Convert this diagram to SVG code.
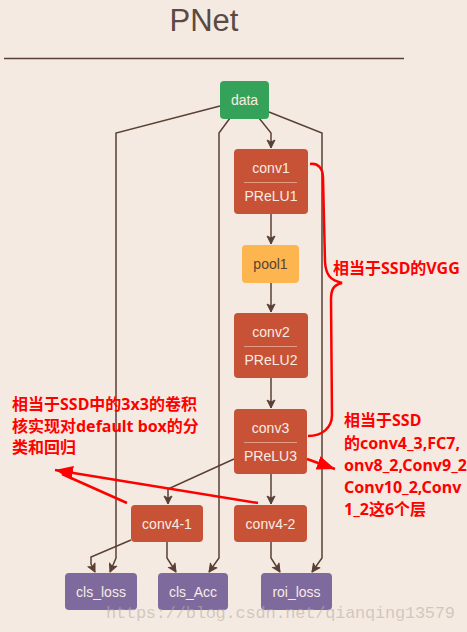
<svg xmlns="http://www.w3.org/2000/svg" width="467" height="632" viewBox="0 0 467 632">
<defs>
<marker id="arr" markerWidth="10" markerHeight="10" refX="9" refY="5" orient="auto" markerUnits="userSpaceOnUse">
<path d="M1,1 L9,5 L1,9 L3,5 Z" fill="#5a4034" stroke="#5a4034" stroke-width="1" stroke-linejoin="round"/>
</marker>
<marker id="rarr" markerWidth="20" markerHeight="16" refX="18" refY="8" orient="auto" markerUnits="userSpaceOnUse">
<path d="M0,1 L18,8 L0,15 Z" fill="#ff0000"/>
</marker>
<style>
.bg{fill:#f5eae1}
.edge{fill:none;stroke:#5a4034;stroke-width:1.5;marker-end:url(#arr)}
.conv{fill:#c85236}
.data{fill:#35a25a}
.pool{fill:#fdb54f}
.loss{fill:#7f6a9d}
.lbl{font-family:"Liberation Sans",Arial,sans-serif;font-size:14px;fill:#f7ece4;text-anchor:middle}
.dark{fill:#5a4034}
.sep{stroke:#e59a84;stroke-width:1}
.red{fill:#ff0000;font-family:"Noto Sans","Noto Sans CJK SC",sans-serif;font-weight:bold;font-size:16px}
.rline{fill:none;stroke:#ff0000;stroke-width:2.5}
</style>
</defs>
<rect class="bg" x="0" y="0" width="467" height="632"/>
<text x="204" y="31" font-family="Liberation Sans,Arial,sans-serif" font-size="31" fill="#5b4a42" text-anchor="middle">PNet</text>
<line x1="4" y1="58.5" x2="404" y2="58.5" stroke="#5a4034" stroke-width="1.3"/>

<g id="connectors">
<polyline class="edge" points="259,118 271,133 271,148"/>
<polyline class="edge" points="220,106 116,133 116,558 110,572"/>
<polyline class="edge" points="230,118 219,133 219,558 209,572"/>
<polyline class="edge" points="269,112 322,133 322,558 312,572"/>
<line class="edge" x1="271" y1="214" x2="271" y2="244"/>
<line class="edge" x1="271" y1="283" x2="271" y2="312"/>
<line class="edge" x1="271" y1="378" x2="271" y2="408"/>
<polyline class="edge" points="234,459 168,489 168,504"/>
<line class="edge" x1="271" y1="474" x2="271" y2="504"/>
<polyline class="edge" points="131,540 91,557 91,564 95,572"/>
<polyline class="edge" points="167,542 167,558 176,572"/>
<polyline class="edge" points="271,542 271,558 280,572"/>
</g>

<g id="data"><rect class="data" x="220" y="81" width="49" height="38" rx="4"/><text class="lbl" x="244.5" y="105">data</text></g>
<g id="conv1"><rect class="conv" x="234" y="149" width="74" height="65" rx="4"/><text class="lbl" x="271" y="173">conv1</text><line class="sep" x1="244" y1="182.5" x2="297" y2="182.5"/><text class="lbl" x="271" y="201">PReLU1</text></g>
<g id="pool1"><rect class="pool" x="242" y="245" width="57" height="38" rx="4"/><text class="lbl dark" x="270.5" y="269">pool1</text></g>
<g id="conv2"><rect class="conv" x="234" y="313" width="74" height="65" rx="4"/><text class="lbl" x="271" y="337">conv2</text><line class="sep" x1="244" y1="346.5" x2="297" y2="346.5"/><text class="lbl" x="271" y="365">PReLU2</text></g>
<g id="conv3"><rect class="conv" x="234" y="409" width="73" height="65" rx="4"/><text class="lbl" x="270.5" y="433">conv3</text><line class="sep" x1="244" y1="442.5" x2="297" y2="442.5"/><text class="lbl" x="270.5" y="461">PReLU3</text></g>
<g id="conv4-1"><rect class="conv" x="131" y="505" width="72" height="37" rx="4"/><text class="lbl" x="167" y="528.5">conv4-1</text></g>
<g id="conv4-2"><rect class="conv" x="234" y="505" width="73" height="37" rx="4"/><text class="lbl" x="270.5" y="528.5">conv4-2</text></g>
<g id="cls_loss"><rect class="loss" x="65" y="573" width="72" height="37" rx="4"/><text class="lbl" x="101" y="597">cls_loss</text></g>
<g id="cls_Acc"><rect class="loss" x="158" y="573" width="70" height="37" rx="4"/><text class="lbl" x="193" y="597">cls_Acc</text></g>
<g id="roi_loss"><rect class="loss" x="261" y="573" width="71" height="37" rx="4"/><text class="lbl" x="296.5" y="597">roi_loss</text></g>

<g id="annotations">
<path class="rline" d="M310,164 C318,163 323,168 323,178 L325,262 C326,275 330,280 342,283 C333,285 331,290 331,300 L332,415 C332,428 322,436 308,436" stroke-width="2"/>
<text class="red" x="333" y="274">相当于SSD的VGG</text>
<text class="red" x="344" y="426">相当于SSD</text>
<text class="red" x="344" y="449">的conv4_3,FC7,</text>
<text class="red" x="344" y="471">onv8_2,Conv9_2</text>
<text class="red" x="344" y="493">Conv10_2,Conv</text>
<text class="red" x="344" y="515">1_2这6个层</text>
<text class="red" x="12" y="410">相当于SSD中的3x3的卷积</text>
<text class="red" x="12" y="432">核实现对default box的分</text>
<text class="red" x="12" y="453">类和回归</text>
<line class="rline" x1="307" y1="459" x2="335" y2="469" marker-end="url(#rarr)"/>
<line class="rline" x1="258" y1="503" x2="55" y2="470" marker-end="url(#rarr)"/>
<line class="rline" x1="127" y1="503" x2="62" y2="474"/>
</g>
<text x="106" y="618" font-family="Liberation Mono,monospace" font-size="17" fill="#b8b0a8" fill-opacity="0.6" textLength="349">https://blog.csdn.net/qianqing13579</text>
</svg>
